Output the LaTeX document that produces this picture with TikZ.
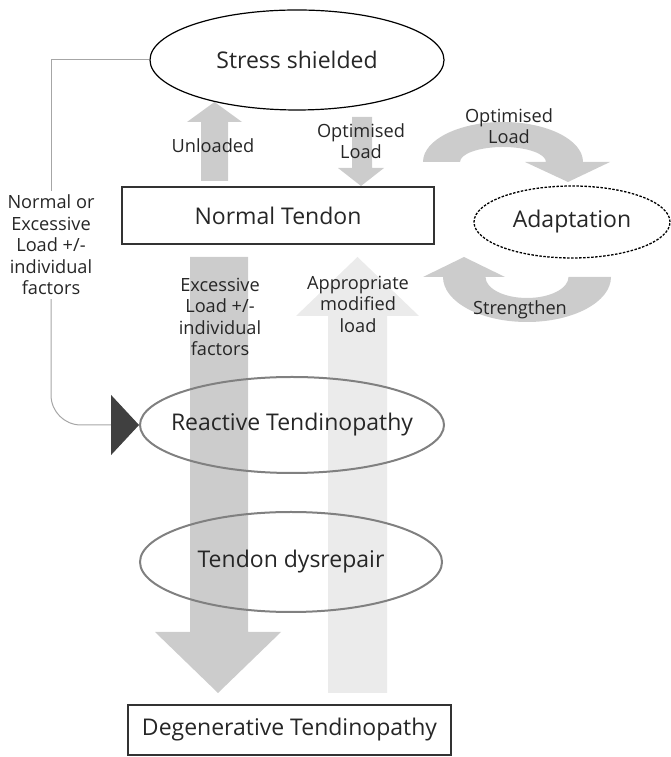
\documentclass[tikz,border=0pt]{standalone}
\usepackage{fontspec}
\setmainfont{Open Sans}
\usetikzlibrary{calc}
\usetikzlibrary{shapes.geometric}
\usetikzlibrary{arrows.meta}
\definecolor{bandgray}{HTML}{CCCCCC}
\definecolor{palegray}{HTML}{EBEBEB}
\definecolor{rimgray}{HTML}{808080}
\definecolor{linkgray}{HTML}{A6A6A6}
\definecolor{headgray}{HTML}{404040}
\definecolor{txtgray}{HTML}{262626}
\tikzset{
    bigtext/.style={font=\fontsize{23}{27}\selectfont, text=txtgray},
    smalltext/.style={font=\fontsize{18.2}{21.5}\selectfont, text=txtgray, align=center, inner sep=4pt},
    band/.style={fill=bandgray, draw=none},
    paleband/.style={fill=palegray, draw=none},
    stage/.style={ellipse, draw=rimgray, line width=2pt, inner ysep=0pt, inner xsep=-14pt, bigtext},
    box/.style={rectangle, draw=black!80, line width=1.2pt, inner sep=0pt, bigtext},
    link/.style={draw=linkgray, line width=1pt}
}

\begin{document}
\begin{tikzpicture}[x=1pt,y=1pt]
    \useasboundingbox (0,0) rectangle (670,757);
    % block arrows
    \fill[band] (190,500) -- (248,500) -- (248,125) -- (281,125) -- (218,64) -- (155,125) -- (190,125) -- cycle;
    \fill[paleband] (328,64) -- (387,64) -- (387,441) -- (419,441) -- (357.5,500) -- (296,441) -- (328,441) -- cycle;
    \fill[band] (201,576) -- (228,576) -- (228,635) -- (242,635) -- (214.5,655) -- (187,635) -- (201,635) -- cycle;
    \fill[band] (352,640) -- (372,640) -- (372,589) -- (384,589) -- (361,571) -- (338,589) -- (352,589) -- cycle;
    % curved arrows round Adaptation
    \fill[band] (423,595) arc[start angle=180, end angle=0, x radius=80, y radius=40] -- (610,595) -- (568,575) -- (525,595) -- (546,595)
        arc[start angle=0, end angle=180, x radius=43, y radius=15] -- cycle;
    \fill[band] (611,480) arc[start angle=0, end angle=-180, x radius=84, y radius=45] -- (423,480) -- (464,500) -- (505,480) -- (485.5,480)
        arc[start angle=180, end angle=360, x radius=41.5, y radius=21] -- cycle;

    \node[ellipse, draw=black, line width=1.2pt, minimum width=294pt, minimum height=100pt, inner sep=0pt, bigtext] (stress) at (297,697) {Stress shielded};
    \node[box, minimum width=312pt, minimum height=57pt] (normal) at (278,541.5) {Normal Tendon};
    \node[ellipse, draw=black, line width=1.3pt, dash pattern=on 2.5pt off 1.5pt, minimum width=196pt, minimum height=72pt, inner sep=0pt, bigtext] (adapt) at (572,535) {Adaptation};
    \node[stage, minimum width=304pt, minimum height=96pt] (reactive) at (292,332) {Reactive Tendinopathy};
    \node[stage, minimum width=302pt, minimum height=100pt] (dysrepair) at (291,195) {Tendon dysrepair};
    \node[box, minimum width=323pt, minimum height=50pt] (degen) at (289.5,27) {Degenerative Tendinopathy};

    \node[smalltext] (unloaded) at (213,611) {Unloaded};
    \node[smalltext] (optload) at (361,616) {Optimised\\Load};
    \node[smalltext] (optadapt) at (509,631) {Optimised\\Load};
    \node[smalltext] (strength) at (520,447) {Strengthen};
    \node[smalltext] (excess) at (220,440) {Excessive\\Load +/-\\individual\\factors};
    \node[smalltext] (approp) at (358,453) {Appropriate\\modified\\load};
    \node[smalltext] (normalload) at (51,512) {Normal or\\Excessive\\Load +/-\\individual\\factors};

    \draw[link] (stress.west) -| (normalload.north);
    \draw[link, rounded corners=30pt, -{Triangle[length=28pt, width=60pt, color=headgray, fill=headgray]}] (normalload.south) |- (reactive.west);
\end{tikzpicture}
\end{document}
